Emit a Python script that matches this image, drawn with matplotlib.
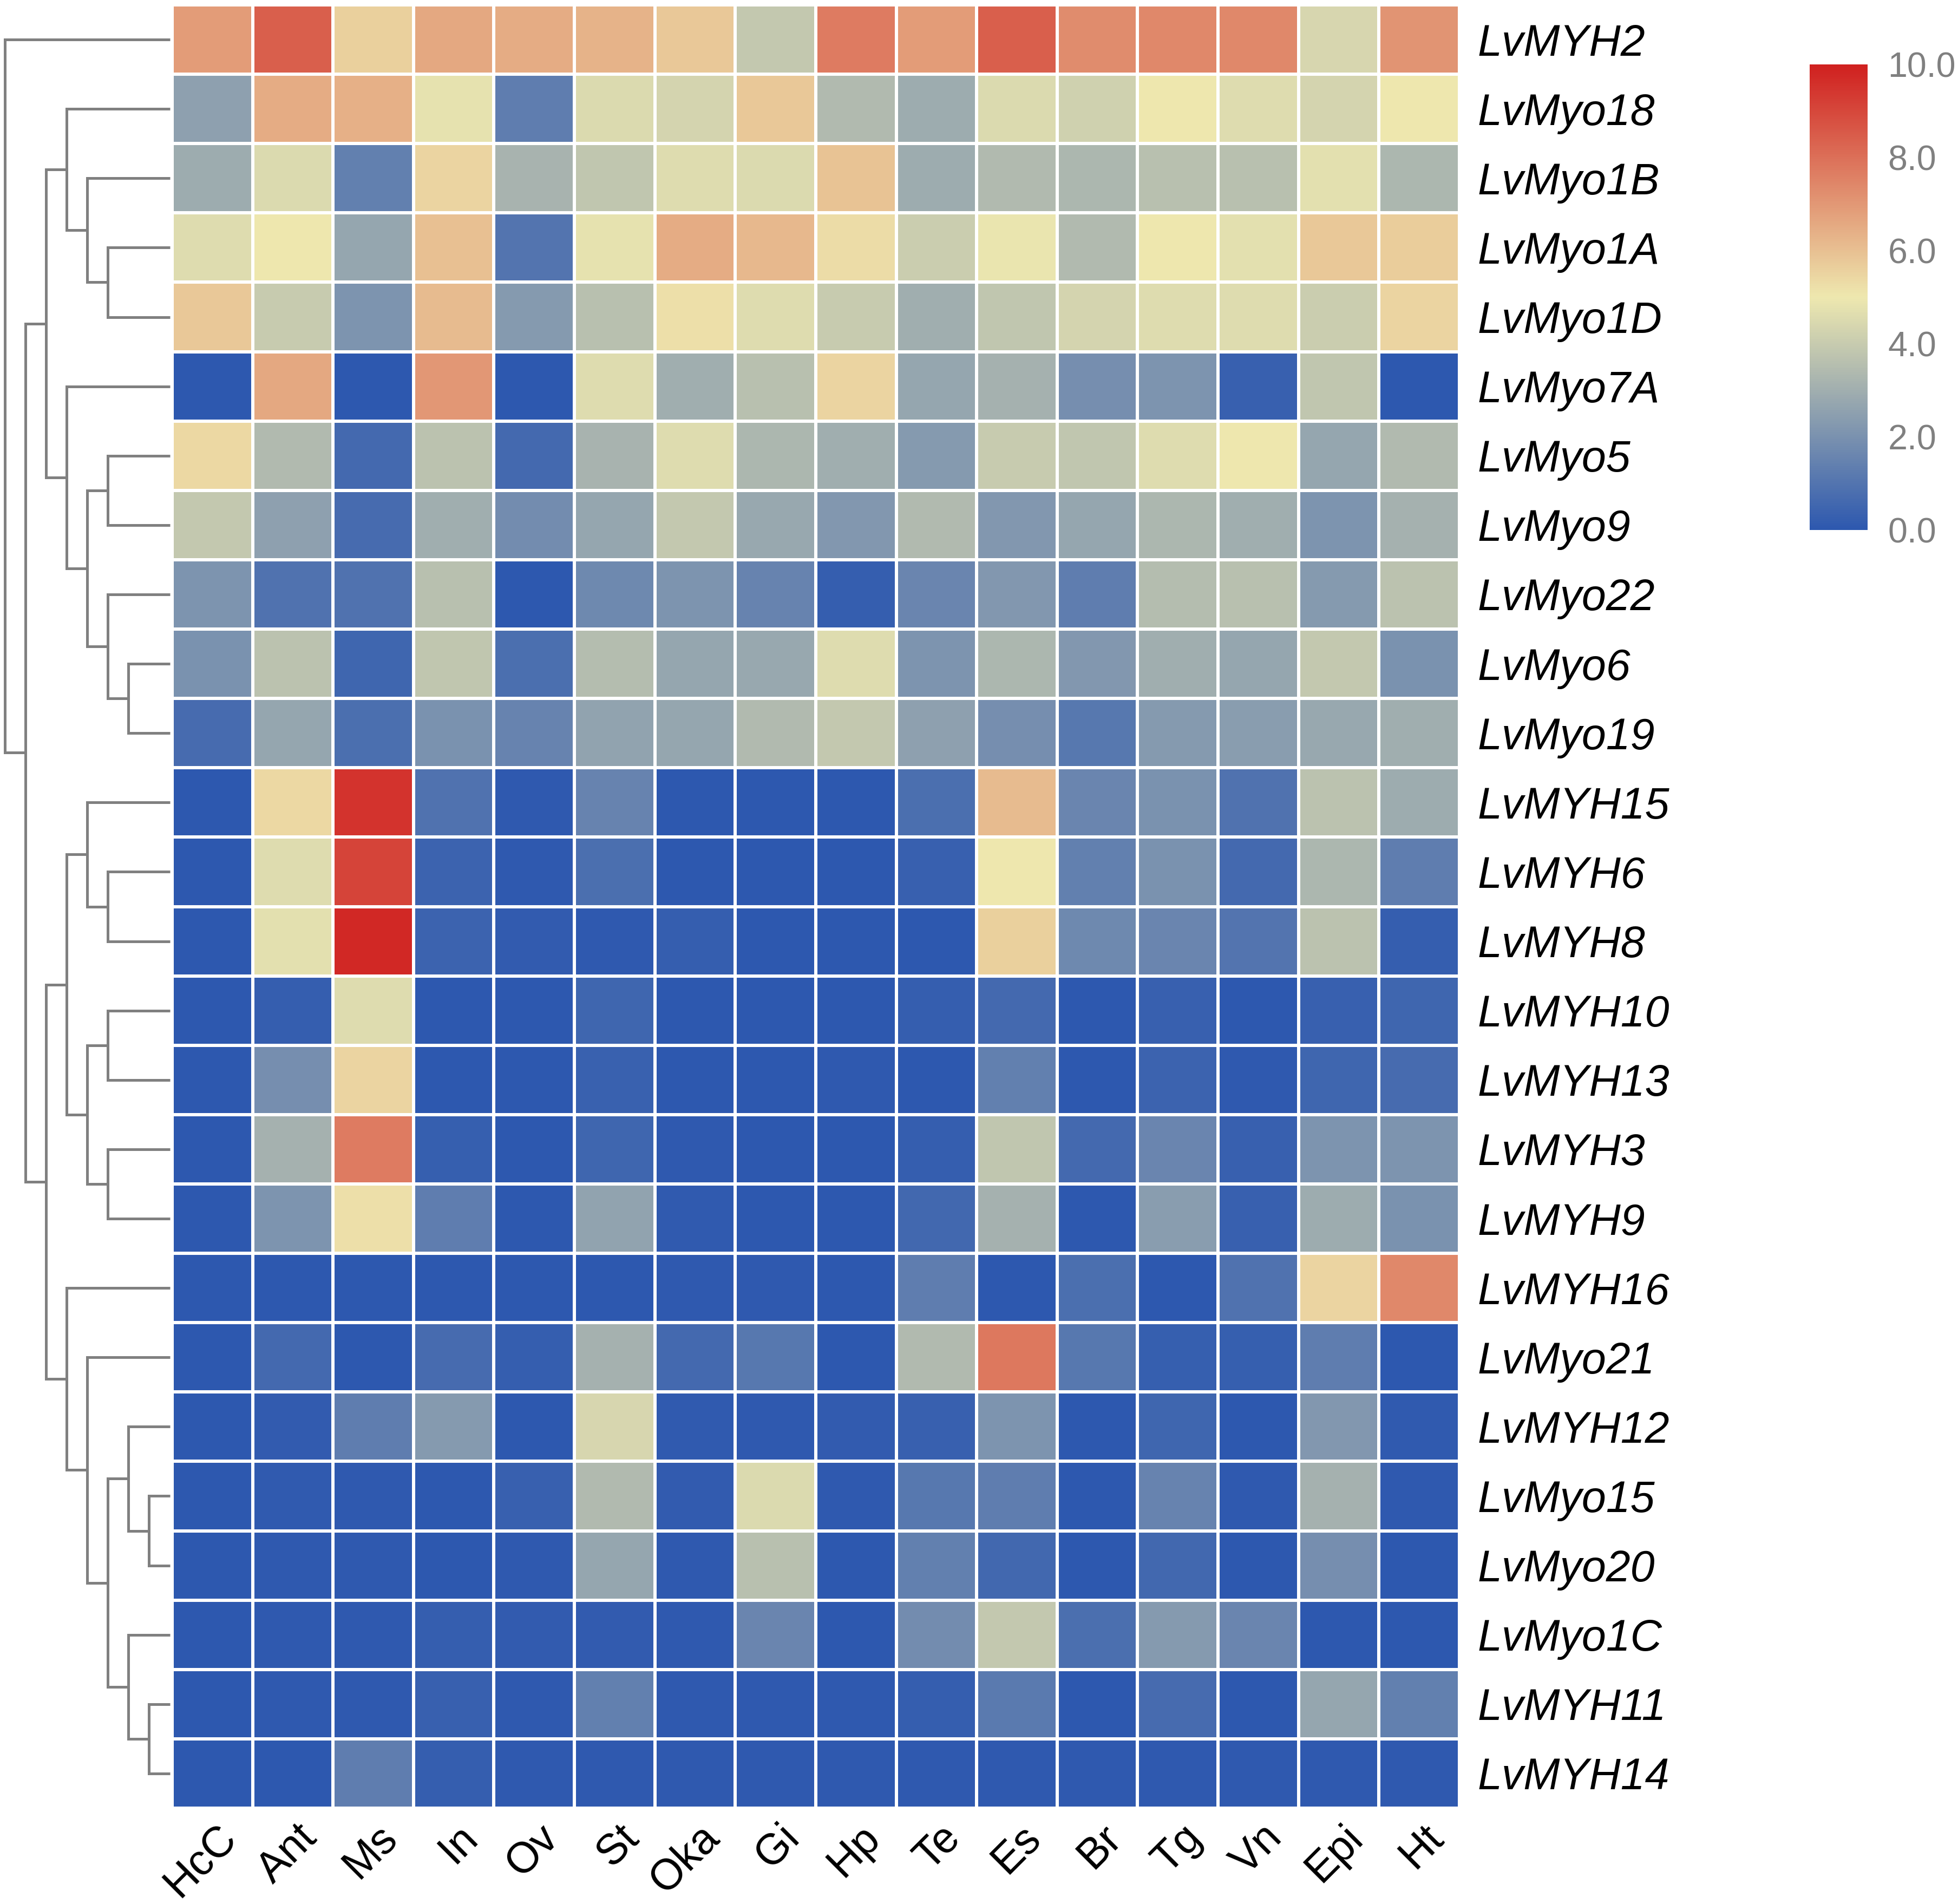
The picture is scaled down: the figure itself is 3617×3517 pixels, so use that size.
import matplotlib
matplotlib.use("Agg")
import matplotlib.pyplot as plt
import numpy as np
from matplotlib.colors import LinearSegmentedColormap


plt.rcParams["font.family"] = ["Liberation Sans", "DejaVu Sans"]

genes = [
    "LvMYH2", "LvMyo18", "LvMyo1B", "LvMyo1A", "LvMyo1D", "LvMyo7A", "LvMyo5",
    "LvMyo9", "LvMyo22", "LvMyo6", "LvMyo19", "LvMYH15", "LvMYH6", "LvMYH8",
    "LvMYH10", "LvMYH13", "LvMYH3", "LvMYH9", "LvMYH16", "LvMyo21", "LvMYH12",
    "LvMyo15", "LvMyo20", "LvMyo1C", "LvMYH11", "LvMYH14",
]
tissues = ["HcC", "Ant", "Ms", "In", "Ov", "St", "Oka", "Gi",
           "Hp", "Te", "Es", "Br", "Tg", "Vn", "Epi", "Ht"]

# expression values, one row per gene (same order as genes)
expr = np.array([
    [6.9, 8.4, 5.6, 6.6, 6.5, 6.3, 5.8, 3.9, 7.7, 6.9, 8.4, 7.3, 7.4, 7.4, 4.4, 7.1],
    [2.5, 6.5, 6.4, 4.8, 1.3, 4.5, 4.3, 5.8, 3.4, 2.9, 4.5, 4.2, 5.0, 4.6, 4.3, 5.0],
    [2.9, 4.5, 1.4, 5.5, 3.2, 3.8, 4.6, 4.5, 5.9, 2.9, 3.4, 3.3, 3.6, 3.6, 4.7, 3.3],
    [4.6, 5.0, 2.7, 6.0, 1.0, 4.8, 6.5, 6.2, 5.3, 4.1, 4.9, 3.4, 5.0, 4.7, 5.8, 5.7],
    [5.8, 4.0, 2.1, 6.1, 2.3, 3.6, 5.2, 4.6, 4.0, 3.0, 3.8, 4.3, 4.6, 4.6, 4.1, 5.5],
    [0.0, 6.6, 0.0, 7.0, 0.0, 4.6, 3.0, 3.6, 5.5, 2.7, 3.1, 1.9, 2.1, 0.3, 3.8, 0.0],
    [5.4, 3.4, 0.6, 3.7, 0.6, 3.2, 4.6, 3.3, 3.0, 2.3, 4.0, 3.8, 4.6, 5.0, 2.7, 3.4],
    [3.9, 2.5, 0.7, 3.0, 1.8, 2.7, 3.9, 2.8, 2.2, 3.4, 2.2, 2.7, 3.3, 3.0, 2.1, 3.1],
    [2.1, 0.9, 0.9, 3.6, 0.0, 1.7, 2.1, 1.5, 0.2, 1.6, 2.2, 1.3, 3.5, 3.6, 2.3, 3.7],
    [2.0, 3.7, 0.5, 3.8, 0.8, 3.5, 2.7, 2.8, 4.6, 2.1, 3.3, 2.2, 3.0, 2.7, 3.9, 2.0],
    [0.7, 2.7, 0.8, 2.0, 1.5, 2.6, 2.7, 3.4, 3.9, 2.5, 1.9, 1.1, 2.3, 2.4, 2.8, 3.0],
    [0.0, 5.4, 9.5, 0.9, 0.05, 1.5, 0.0, 0.0, 0.0, 0.8, 6.1, 1.6, 2.0, 0.9, 3.7, 2.9],
    [0.0, 4.6, 9.1, 0.4, 0.05, 0.8, 0.0, 0.0, 0.0, 0.3, 5.0, 1.4, 2.0, 0.6, 3.3, 1.3],
    [0.0, 4.7, 9.8, 0.4, 0.15, 0.05, 0.2, 0.0, 0.0, 0.0, 5.6, 1.7, 1.6, 1.0, 3.7, 0.2],
    [0.0, 0.2, 4.6, 0.0, 0.0, 0.5, 0.0, 0.0, 0.0, 0.2, 0.6, 0.0, 0.3, 0.0, 0.3, 0.5],
    [0.0, 1.9, 5.5, 0.0, 0.0, 0.35, 0.0, 0.0, 0.05, 0.0, 1.4, 0.0, 0.4, 0.05, 0.5, 0.7],
    [0.0, 3.1, 7.7, 0.25, 0.0, 0.5, 0.05, 0.0, 0.0, 0.2, 3.8, 0.6, 1.6, 0.3, 2.1, 2.1],
    [0.0, 2.1, 5.2, 1.3, 0.0, 2.6, 0.1, 0.0, 0.0, 0.55, 3.1, 0.0, 2.4, 0.3, 2.9, 2.0],
    [0.0, 0.0, 0.0, 0.0, 0.0, 0.0, 0.05, 0.05, 0.0, 1.3, 0.0, 0.8, 0.0, 0.9, 5.5, 7.4],
    [0.0, 0.6, 0.0, 0.7, 0.2, 3.1, 0.6, 1.1, 0.0, 3.4, 7.8, 1.1, 0.25, 0.25, 1.3, 0.0],
    [0.0, 0.15, 1.3, 2.3, 0.0, 4.4, 0.1, 0.05, 0.15, 0.3, 2.1, 0.0, 0.5, 0.0, 2.2, 0.1],
    [0.0, 0.1, 0.05, 0.0, 0.3, 3.4, 0.15, 4.5, 0.05, 1.1, 1.3, 0.0, 1.5, 0.05, 3.1, 0.05],
    [0.0, 0.05, 0.05, 0.0, 0.05, 2.7, 0.05, 3.6, 0.0, 1.4, 0.55, 0.0, 0.55, 0.0, 1.9, 0.0],
    [0.0, 0.05, 0.05, 0.2, 0.15, 0.15, 0.05, 1.6, 0.0, 1.8, 3.9, 0.8, 2.3, 1.6, 0.0, 0.0],
    [0.0, 0.05, 0.05, 0.3, 0.05, 1.4, 0.05, 0.05, 0.05, 0.2, 1.2, 0.0, 0.7, 0.0, 2.7, 1.4],
    [0.0, 0.0, 1.3, 0.2, 0.05, 0.05, 0.05, 0.05, 0.05, 0.05, 0.05, 0.05, 0.05, 0.05, 0.05, 0.05],
])

# row clustering (nested pairs of gene names)
top_cluster = (("LvMyo18", ("LvMyo1B", ("LvMyo1A", "LvMyo1D"))),
               ("LvMyo7A", (("LvMyo5", "LvMyo9"), ("LvMyo22", ("LvMyo6", "LvMyo19")))))
bottom_cluster = ((("LvMYH15", ("LvMYH6", "LvMYH8")),
                   (("LvMYH10", "LvMYH13"), ("LvMYH3", "LvMYH9"))),
                  ("LvMYH16", ("LvMyo21", (("LvMYH12", ("LvMyo15", "LvMyo20")),
                                           ("LvMyo1C", ("LvMYH11", "LvMYH14"))))))
tree = ("LvMYH2", (top_cluster, bottom_cluster))

cbar_ticks = [0, 2, 4, 6, 8, 10]

W, H = 3617, 3517
fig = plt.figure(figsize=(W / 300, H / 300), dpi=300)

cmap = LinearSegmentedColormap.from_list("expr", ["#2D58AF", "#EEE8AF", "#D0201F"])

# heatmap
hm_left, hm_right, hm_top, hm_bottom = 318, 2696, 9, 3340
ax = fig.add_axes([hm_left / W, 1 - hm_bottom / H, (hm_right - hm_left) / W,
                   (hm_bottom - hm_top) / H])
nrow, ncol = expr.shape
mesh = ax.pcolormesh(np.arange(ncol + 1), np.arange(nrow + 1), expr, cmap=cmap,
                     vmin=0, vmax=10, edgecolors="white", linewidth=1.4)
ax.set_xlim(0, ncol)
ax.set_ylim(nrow, 0)
for s in ax.spines.values():
    s.set_visible(False)
ax.yaxis.tick_right()
ax.set_yticks(np.arange(nrow) + 0.5)
ax.set_yticklabels(genes, fontsize=19.4, fontstyle="italic")
ax.tick_params(axis="y", length=0, pad=8)
ax.set_xticks([])
for j, t in enumerate(tissues):
    ax.text(j + 0.54, nrow + 0.13, t, rotation=45, rotation_mode="anchor",
            ha="right", va="top", fontsize=19)

# dendrogram
dax = fig.add_axes([0, 1 - hm_bottom / H, hm_left / W, (hm_bottom - hm_top) / H])
LEAF_X = 8
step = (313.5 - 9) / LEAF_X
dax.set_xlim(-9 / step, (hm_left - 9) / step)
dax.set_ylim(nrow, 0)
dax.axis("off")


def draw(node, depth):
    if isinstance(node, str):
        return genes.index(node) + 0.5, LEAF_X
    ys = []
    for child in node:
        y, x = draw(child, depth + 1)
        dax.plot([depth, x], [y, y], color="#808080", lw=1.2,
                 solid_capstyle="butt")
        ys.append(y)
    dax.plot([depth, depth], [min(ys), max(ys)], color="#808080", lw=1.2,
             solid_capstyle="projecting")
    return np.mean(ys), depth


draw(tree, 0)

# colorbar
cax = fig.add_axes([3343 / W, 1 - 979 / H, (3450 - 3343) / W, (979 - 119) / H])
cb = fig.colorbar(mesh, cax=cax, ticks=cbar_ticks)
cb.outline.set_visible(False)
cb.ax.set_yticklabels([f"{t:.1f}" for t in cbar_ticks])
cb.ax.tick_params(length=0, pad=9, labelsize=15.5, labelcolor="#808080")

fig.savefig("out.png", dpi=300, facecolor="white")
